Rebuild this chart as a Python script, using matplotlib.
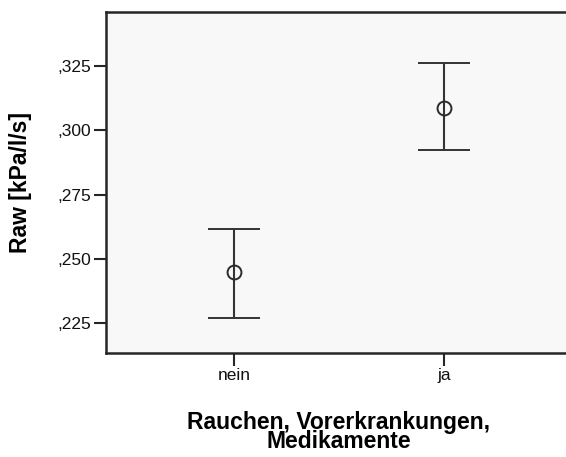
import matplotlib
matplotlib.use("Agg")
import matplotlib.pyplot as plt
import numpy as np

plt.rcParams['font.family'] = ['Liberation Sans', 'DejaVu Sans']

# Group means with 95% confidence interval bounds
categories = ["nein", "ja"]
means = [0.2447, 0.3089]
ci_lower = [0.2269, 0.2923]
ci_upper = [0.2617, 0.3263]
yticks = [0.225, 0.250, 0.275, 0.300, 0.325]
ytick_labels = [",225", ",250", ",275", ",300", ",325"]

fig = plt.figure(figsize=(5.66, 4.57), dpi=100)
ax = fig.add_axes([0.1873, 0.2276, 0.8233, 0.7461])
ax.set_facecolor("#F8F8F8")

x = np.arange(len(categories))
m = np.array(means)
yerr = np.vstack([m - np.array(ci_lower), np.array(ci_upper) - m])
ax.errorbar(x, m, yerr=yerr, fmt="o", color="#2b2b2b", ecolor="#333333",
            elinewidth=1.5, capsize=18.5, capthick=1.5,
            markersize=10, markerfacecolor="none", markeredgewidth=1.4,
            markeredgecolor="#2b2b2b")

ax.set_xlim(-0.61, 1.61)
ax.set_ylim(0.2133, 0.3461)
ax.set_xticks(x)
ax.set_xticklabels(categories)
ax.set_yticks(yticks)
ax.set_yticklabels(ytick_labels)

for s in ax.spines.values():
    s.set_linewidth(1.8)
    s.set_color("#262626")

ax.tick_params(axis="both", direction="out", length=9, width=1.5,
               color="#262626", labelsize=12.5, labelcolor="#111111")
ax.tick_params(axis="y", pad=2)
ax.tick_params(axis="x", pad=2)

ax.set_ylabel("Raw [kPa/l/s]", fontsize=16.5, fontweight="bold", labelpad=18)
ax.set_xlabel("Rauchen, Vorerkrankungen,\nMedikamente", fontsize=16.5,
              fontweight="bold", labelpad=20, linespacing=0.78)

fig.savefig("out.png", dpi=100)
